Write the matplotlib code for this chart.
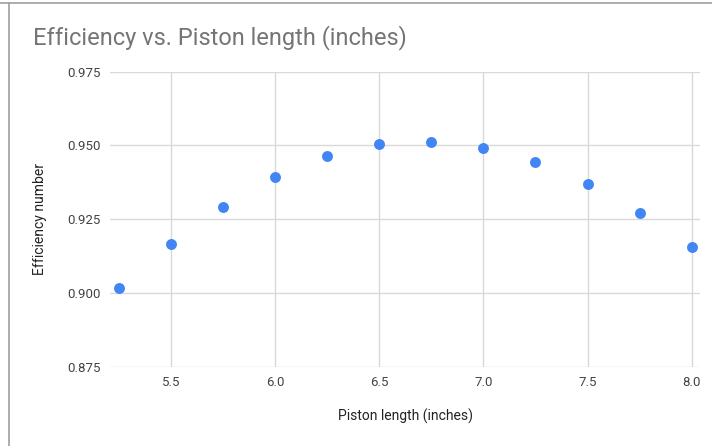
import matplotlib
matplotlib.use("Agg")
import matplotlib.pyplot as plt
from matplotlib.lines import Line2D

piston_length = [5.25, 5.5, 5.75, 6.0, 6.25, 6.5, 6.75, 7.0, 7.25, 7.5, 7.75, 8.0]
efficiency = [0.9016, 0.9166, 0.9292, 0.9392, 0.9464, 0.9504, 0.9513, 0.9492, 0.9444, 0.9369, 0.9272, 0.9157]
x_ticks = [5.5, 6.0, 6.5, 7.0, 7.5, 8.0]
y_ticks = [0.875, 0.900, 0.925, 0.950, 0.975]

plt.rcParams['font.family'] = ['Roboto', 'DejaVu Sans']

fig = plt.figure(figsize=(7.12, 4.46), dpi=100)
W, H = 712, 446
ax = fig.add_axes([110 / W, 1 - 366.7 / H, (700 - 110) / W, (366.7 - 71.7) / H])

ax.scatter(piston_length, efficiency, s=62, color='#4285F4', zorder=3, linewidths=0)
ax.set_xlim(5.207, 8.04)
ax.set_ylim(0.875, 0.975)
ax.set_xticks(x_ticks)
ax.set_xticklabels([f"{v:.1f}" for v in x_ticks])
ax.set_yticks(y_ticks)
ax.set_yticklabels([f"{v:.3f}" for v in y_ticks])
ax.grid(True, color='#d9d9d9', linewidth=1.0)
ax.set_axisbelow(True)
for s in ax.spines.values():
    s.set_visible(False)
ax.tick_params(length=0, labelsize=9.5, labelcolor='#444444', pad=7)
ax.set_xlabel("Piston length (inches)", fontsize=10, color='#222222', labelpad=14)
ax.set_ylabel("Efficiency number", fontsize=10, color='#222222', labelpad=14)

fig.text(33 / W, 1 - 38 / H, "Efficiency vs. Piston length (inches)", fontsize=17,
         color='#757575', ha='left', va='center')

# surrounding sheet border lines
fig.add_artist(Line2D([0, 1], [1 - 3 / H, 1 - 3 / H], color='#9e9e9e', linewidth=1.2, transform=fig.transFigure))
fig.add_artist(Line2D([9 / W, 9 / W], [0, 1 - 3 / H], color='#9e9e9e', linewidth=1.2, transform=fig.transFigure))

fig.savefig("out.png", dpi=100)
